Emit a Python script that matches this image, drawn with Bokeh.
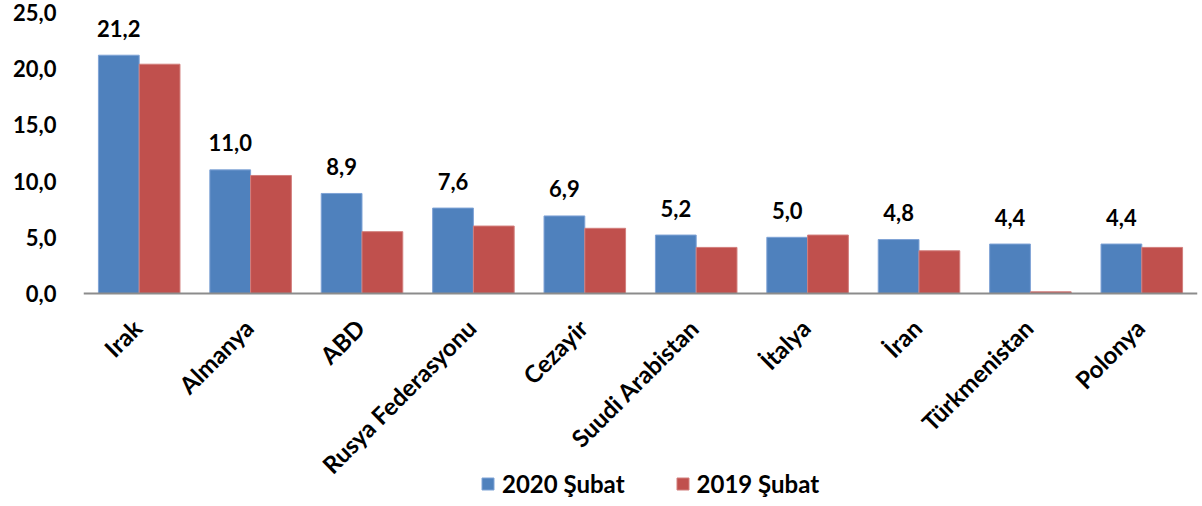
import math
from bokeh.plotting import figure
from bokeh.models import (ColumnDataSource, Range1d, CustomJSTickFormatter, Legend, LegendItem, Span)
from bokeh.transform import dodge
from bokeh.core.properties import value
from bokeh.embed import file_html
from bokeh.resources import INLINE

categories = ["Irak", "Almanya", "ABD", "Rusya Federasyonu", "Cezayir",
              "Suudi Arabistan", "İtalya", "İran", "Türkmenistan", "Polonya"]
values_2020 = [21.2, 11.0, 8.9, 7.6, 6.9, 5.2, 5.0, 4.8, 4.4, 4.4]
values_2019 = [20.4, 10.5, 5.5, 6.0, 5.8, 4.1, 5.2, 3.8, 0.15, 4.1]
series_names = ["2020 Şubat", "2019 Şubat"]
y_ticks = [0, 5, 10, 15, 20, 25]

FONT = "Lato"
FS = "22px"
FS_CAT = "24px"
BLUE = "#4F81BD"
RED = "#C0504D"

W, H = 1202, 506
FRAME_TOP, ZERO_Y, FRAME_BOTTOM = 12, 293, 500
Y_MAX = 25
y_min = -Y_MAX * (FRAME_BOTTOM - ZERO_Y) / (ZERO_Y - FRAME_TOP)

labels_2020 = [f"{v:.1f}".replace(".", ",") for v in values_2020]
zeros = [0] * len(categories)

src = ColumnDataSource(dict(cat=categories, v20=values_2020, v19=values_2019,
                            lab=labels_2020, zero=zeros))

p = figure(width=W, height=H, x_range=categories, y_range=Range1d(y_min, Y_MAX),
           output_backend="svg", toolbar_location=None,
           min_border_left=83, min_border_right=5, min_border_top=FRAME_TOP,
           min_border_bottom=H - FRAME_BOTTOM)
p.x_range.range_padding = 0
p.outline_line_color = None
p.xgrid.grid_line_color = None
p.ygrid.grid_line_color = None

bw = 0.366
r20 = p.vbar(x=dodge("cat", -bw / 2, range=p.x_range), top="v20", bottom=0, width=bw, source=src,
             fill_color=BLUE, line_color="#7FA3D6", line_width=1)
r19 = p.vbar(x=dodge("cat", bw / 2, range=p.x_range), top="v19", bottom=0, width=bw, source=src,
             fill_color=RED, line_color="#D27E7C", line_width=1)

# value labels
p.text(x=dodge("cat", -bw / 2, range=p.x_range), y="v20", text="lab", source=src,
       text_align="center", text_baseline="alphabetic", y_offset=-27,
       text_font=value(FONT), text_font_style="bold", text_font_size=FS, text_color="black")

# x baseline
p.add_layout(Span(location=0, dimension="width", line_color="#8C8C8C", line_width=2))

# category labels (rotated)
p.text(x="cat", y="zero", text="cat", source=src, angle=math.pi / 4,
       text_align="right", text_baseline="middle", y_offset=30, x_offset=-2,
       text_font=value(FONT), text_font_style="bold", text_font_size=FS_CAT, text_color="black")

p.xaxis.visible = False

# y axis
p.yaxis.ticker = y_ticks
p.yaxis.formatter = CustomJSTickFormatter(code="return tick.toFixed(1).replace('.', ',');")
p.yaxis.axis_line_color = None
p.yaxis.major_tick_line_color = None
p.yaxis.minor_tick_line_color = None
p.yaxis.major_label_standoff = 21
p.yaxis.major_label_text_font = FONT
p.yaxis.major_label_text_font_style = "bold"
p.yaxis.major_label_text_font_size = FS
p.yaxis.major_label_text_color = "black"

legend = Legend(items=[LegendItem(label=series_names[0], renderers=[r20]),
                       LegendItem(label=series_names[1], renderers=[r19])],
                orientation="horizontal", location=(397, 2),
                label_text_font=FONT, label_text_font_style="bold", label_text_font_size=FS_CAT,
                label_text_color="black", glyph_width=15, glyph_height=15,
                label_standoff=7, spacing=50, padding=0, margin=0,
                border_line_color=None, background_fill_alpha=0)
p.add_layout(legend)

open("out.html", "w").write(file_html(p, INLINE))
